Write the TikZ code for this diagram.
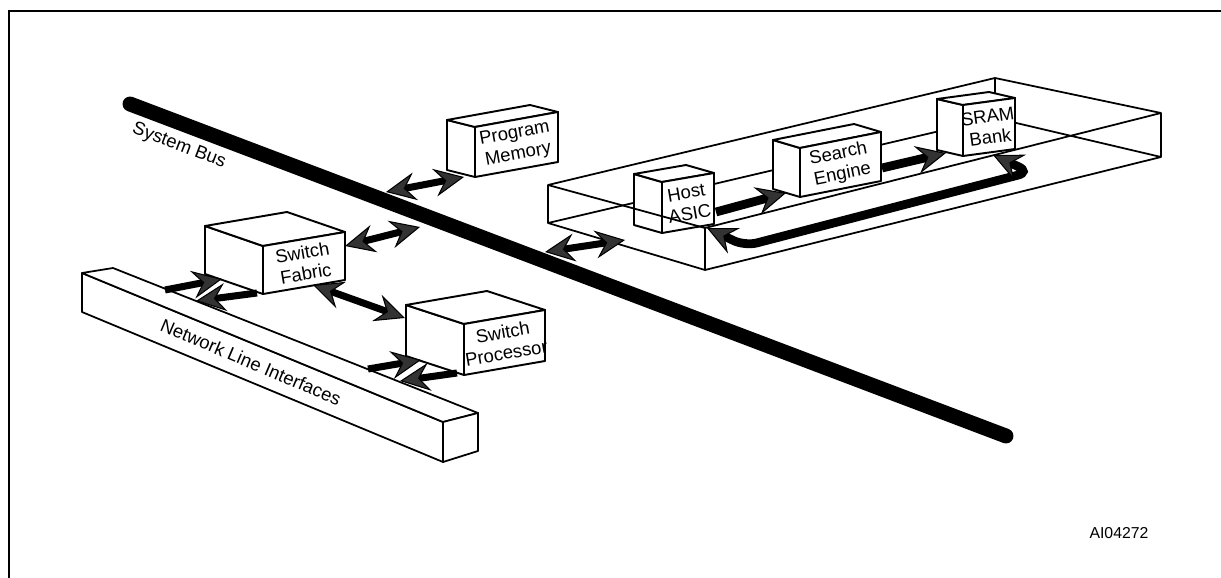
\documentclass[tikz,border=0pt]{standalone}
\usepackage{fontspec}
\setmainfont{Liberation Sans}
\usetikzlibrary{calc,arrows.meta}
\newcommand{\unitbox}[7]{%
\coordinate (#1a) at #2;
\coordinate (#1b) at #3;
\coordinate (#1c) at ($(#1b)+(0,#4)$);
\coordinate (#1d) at ($(#1a)+(0,#4)$);
\coordinate (#1e) at ($(#1a)-#5$);
\coordinate (#1f) at ($(#1b)-#5$);
\coordinate (#1g) at ($(#1d)-#5$);
\filldraw[unit] (#1a) -- (#1e) -- (#1g) -- (#1d) -- cycle;
\filldraw[unit] (#1a) -- (#1e) -- (#1f) -- (#1b) -- cycle;
\filldraw[unit] (#1a) -- (#1b) -- (#1c) -- (#1d) -- cycle;
\node[unitlabel, rotate=#6] (#1) at ($(#1a)!0.5!(#1c)$) {#7};
}
\begin{document}
\begin{tikzpicture}[x=0.02cm, y=-0.02cm,
  unit/.style={draw, fill=white, line width=1.1pt, line join=round},
  unitlabel/.style={align=center, font=\fontsize{10.5}{12}\selectfont, inner sep=0pt},
  slab/.style={draw, line width=1pt, line join=round},
  busline/.style={line width=8.5pt, line cap=round},
  fathead/.tip={Stealth[length=17pt 0 0, width=16pt 0 0, inset=6pt 0 0, fill=black!80, line width=0.6pt 0 0]},
  fat/.style={line width=4pt},
  fatter/.style={line width=5pt}]
\useasboundingbox (0,0) rectangle (1221,578);
\draw[line width=1.1pt] (9,578) -- (9,11) -- (1221,11);

\coordinate (bdA) at (548,185);
\coordinate (bdB) at (995,78);
\coordinate (bdC) at (1161,113);
\coordinate (bdD) at (705,228);
\coordinate (bdE) at (548,223);
\coordinate (bdF) at (995,118);
\coordinate (bdG) at (1161,157);
\coordinate (bdH) at (705,270);
\draw[slab] (bdD) -- (bdC) -- (bdB) -- (bdA) -- (bdE) -- (bdH) -- (bdG) -- (bdF) -- (bdE);
\draw[slab] (bdB) -- (bdF);
\draw[slab] (bdC) -- (bdG);
\draw[slab] (bdD) -- (bdH);

\filldraw[unit, line width=1pt] (82,273) -- (443,422) -- (443,462) -- (82,312) -- cycle;
\filldraw[unit, line width=1pt] (82,273) -- (113,268) -- (478,413) -- (443,422) -- cycle;
\filldraw[unit, line width=1pt] (443,422) -- (478,413) -- (478,451) -- (443,462) -- cycle;
\node[rotate=-23, font=\fontsize{10.5}{12}\selectfont] (nli) at (251,362) {Network Line Interfaces};

\unitbox{pm}{(475,127)}{(558,112)}{50}{(28,7)}{10.2}{Program\\Memory}
\unitbox{sf}{(263,246)}{(345,232)}{48}{(58,20)}{9.7}{Switch\\Fabric}
\unitbox{sp}{(464,324)}{(545,310)}{51}{(58,19)}{9.8}{Switch\\Processor}
\unitbox{asic}{(662,182)}{(714,173)}{51}{(28,8)}{9.8}{Host\\ASIC}
\unitbox{se}{(800,148)}{(881,132)}{49}{(27,8)}{11.2}{Search\\Engine}
\unitbox{sram}{(963,105)}{(1015,98)}{51}{(26,6)}{7.7}{SRAM\\Bank}
\draw[slab] (bdA) -- (bdD);

\coordinate (bus0) at (130,104);
\coordinate (bus1) at (1006,436);
\draw[busline] (bus0) -- (bus1);
\node[rotate=-21, font=\fontsize{10.5}{12}\selectfont] (buslabel) at (179,146) {System Bus};

\coordinate (pm0) at (386,192);
\coordinate (pm1) at (464,177);
\coordinate (sf0) at (345,246);
\coordinate (sf1) at (420,227);
\coordinate (asic0) at (545,252);
\coordinate (asic1) at (625,240);
\coordinate (nli0) at (165,290);
\coordinate (nli1) at (222,279);
\coordinate (nli2) at (257,293);
\coordinate (nli3) at (196,301);
\coordinate (sp0) at (313,285);
\coordinate (sp1) at (405,318);
\coordinate (nli4) at (368,369);
\coordinate (nli5) at (421,360);
\coordinate (nli6) at (457,373);
\coordinate (nli7) at (400,381);
\coordinate (se0) at (716,212);
\coordinate (se1) at (786,193);
\coordinate (sram0) at (882,168);
\coordinate (sram1) at (946,153);
\coordinate (loop0) at (707,228);
\coordinate (loop1) at (745,246);
\coordinate (loop2) at (1030,172);
\coordinate (loop3) at (993,155);
\draw[fat, fathead-fathead] (pm0) -- (pm1);
\draw[fat, fathead-fathead] (sf0) -- (sf1);
\draw[fat, fathead-fathead] (asic0) -- (asic1);
\draw[fat, -fathead] (nli0) -- (nli1);
\draw[fat, -fathead] (nli2) -- (nli3);
\draw[fat, fathead-fathead] (sp0) -- (sp1);
\draw[fat, -fathead] (nli4) -- (nli5);
\draw[fat, -fathead] (nli6) -- (nli7);
\draw[fatter, -fathead] (se0) -- (se1);
\draw[fatter, -fathead] (sram0) -- (sram1);
\draw[fatter, fathead-fathead, rounded corners=7pt] (loop0) -- (loop1) -- (loop2) -- (loop3);

\node[font=\fontsize{9}{11}\selectfont] (code) at (1119,533) {AI04272};
\end{tikzpicture}
\end{document}
